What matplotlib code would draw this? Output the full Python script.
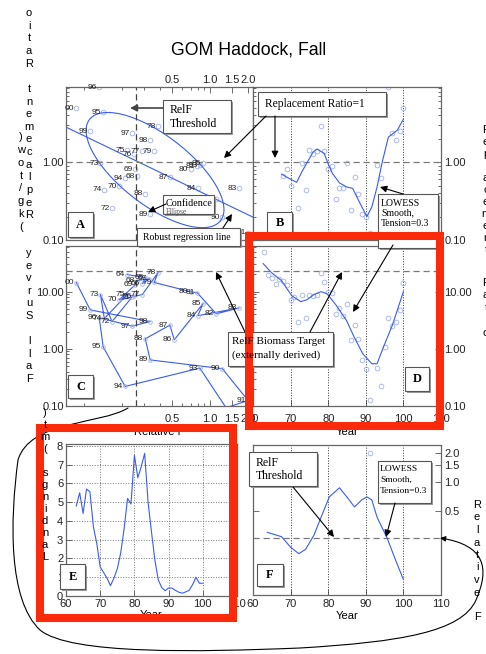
import numpy as np
import matplotlib
matplotlib.use('Agg')
import matplotlib.pyplot as plt
from matplotlib.patches import Rectangle, FancyArrowPatch
from matplotlib.path import Path
from matplotlib.ticker import FixedLocator, NullFormatter, LogLocator

plt.rcParams['font.family'] = ['Liberation Sans', 'DejaVu Sans']

# ---------------- data ----------------
year = list(range(63, 101))
rel_f = [np.nan, 0.22, 0.31, 0.29, 0.33, 0.264, 0.255, 0.19, 0.24, 0.167, 0.135, 0.145,
         0.22, 0.25, 0.29, 0.387, 0.36, 0.70, 0.79, 1.12, 1.70, 0.80, 0.88, 0.52, 0.48,
         0.306, 0.335, 1.25, 2.0, 1.34, 0.83, 0.212, 0.142, 0.132, 0.241, 0.335, 0.112, 0.087]
biomass = [50, 19.9, 17.6, 13.8, 16.9, 15.6, 13.2, 7.2, 8.0, 3.0, 8.9, 3.4, 8.9, 8.3, 8.9,
           21.6, 14.5, 10.0, 9.6, 4.1, 5.2, 3.8, 6.2, 1.44, 2.6, 1.5, 0.64, 0.45, 0.125,
           0.093, 0.46, 0.22, 1.08, 3.5, 2.5, 3.0, 4.8, 14.4]
repl_ratio = [np.nan, np.nan, np.nan, np.nan, np.nan, 0.66, 0.81, 0.49, np.nan, 0.257, 0.97,
              0.44, 1.42, 1.27, 1.38, 2.9, 1.38, 0.81, 0.89, 0.335, 0.46, 0.46, 0.97, 0.24,
              0.64, 0.39, 0.215, 0.197, 0.123, 0.09, 0.91, 0.62, 4.38, 9.1, 2.35, 1.91, 2.5, 4.92]
landings = [4.8, 5.5, 4.4, 5.7, 5.55, 3.7, 2.8, 1.55, 1.25, 0.95, 0.55, 0.95, 1.45, 2.3, 3.6,
            5.2, 4.9, 7.5, 6.3, 6.9, 7.6, 5.0, 3.4, 1.9, 0.85, 0.45, 0.28, 0.43, 0.42, 0.3,
            0.2, 0.15, 0.22, 0.3, 0.6, 1.0, 0.68, 0.68]

b_lowess_year = [67.6, 69.5, 71.6, 73.0, 74.3, 76.0, 77.0, 78.9, 80.0, 81.1, 83.0, 84.9,
                 86.5, 88.4, 90.3, 91.6, 93.0, 94.3, 96.0, 98.4, 100.0]
b_lowess_val = [0.70, 0.62, 0.55, 0.75, 0.97, 1.35, 1.47, 1.30, 0.95, 0.72, 0.54, 0.48,
                0.46, 0.30, 0.20, 0.265, 0.48, 0.97, 2.09, 2.57, 3.56]
d_lowess_year = [62.7, 64.9, 67.6, 70.3, 72.7, 74.3, 76.2, 78.1, 79.7, 82.2, 84.9, 87.0,
                 89.2, 91.6, 93.0, 94.6, 97.0, 100.0]
d_lowess_val = [31, 21.6, 15.6, 8.5, 6.7, 7.2, 8.9, 10.0, 9.2, 5.7, 3.1, 1.56, 0.82, 0.55,
                0.55, 1.04, 2.53, 10.0]
f_lowess_year = [63.8, 67.6, 70.0, 72.2, 74.0, 76.2, 78.1, 80.3, 83.0, 85.2, 87.0, 88.9,
                 90.3, 91.6, 93.0, 95.7, 97.9, 100.0]
f_lowess_val = [0.30, 0.27, 0.21, 0.18, 0.20, 0.28, 0.43, 0.70, 0.87, 0.68, 0.55, 0.65,
                0.70, 0.65, 0.43, 0.26, 0.155, 0.097]
f_point_years = [91]

relf_threshold = 0.26
biomass_target = 23.0
repl_line = 1.0
# robust regression: RR = a * relF ** b
reg_a, reg_b = 0.362, -0.779
# confidence ellipse in log10 space: centre, semi-major vector, semi-minor vector
ell_center = (0.366, 0.79)
ell_major = (0.520, -0.649)
ell_minor = (0.169, 0.354)

relf_ticks = [0.5, 1.0, 1.5, 2.0]
relf_ticklabels = ['0.5', '1.0', '1.5', '2.0']

# ---------------- figure ----------------
W, H = 486, 654
fig = plt.figure(figsize=(W / 100, H / 100), dpi=100)
fig.patch.set_facecolor('white')


def px_axes(x0, y0, x1, y1):
    return fig.add_axes([x0 / W, 1 - y1 / H, (x1 - x0) / W, (y1 - y0) / H])


BLUE = '#3a5cf0'
CIRC = '#9fb0ee'
GREYD = '#7a7a7a'
SPINE = '#666666'

yr = np.array(year, dtype=float)
rf = np.array(rel_f)
bm = np.array(biomass)
rr = np.array(repl_ratio)
ld = np.array(landings)
labels = ['%02d' % (y % 100) for y in year]


def style(ax):
    for s in ax.spines.values():
        s.set_color(SPINE)
        s.set_linewidth(0.9)
    ax.tick_params(which='both', direction='in', colors='#555555', labelcolor='#222222',
                   labelsize=8, width=0.6)
    ax.tick_params(which='major', length=4)
    ax.tick_params(which='minor', length=2)


def circles(ax, x, y):
    ax.plot(x, y, 'o', ms=3.4, mfc='none', mec=CIRC, mew=0.6, ls='none')


# ---- A ----
axA = px_axes(66, 87, 253, 240)
axA.set_xscale('log'); axA.set_yscale('log')
axA.set_xlim(0.072, 2.19); axA.set_ylim(0.1, 9.2)
style(axA)
axA.xaxis.tick_top()
axA.xaxis.set_major_locator(FixedLocator(relf_ticks))
axA.set_xticklabels(relf_ticklabels)
axA.xaxis.set_minor_locator(FixedLocator([0.1, 0.2, 0.3, 0.4, 0.6, 0.7, 0.8, 0.9]))
axA.xaxis.set_minor_formatter(NullFormatter())
axA.set_yticks([0.1, 1.0]); axA.set_yticklabels(['0.10', '1.00'])
axA.yaxis.set_minor_locator(LogLocator(subs=np.arange(2, 10)))
axA.yaxis.set_minor_formatter(NullFormatter())
axA.tick_params(axis='x', pad=1.5); axA.tick_params(axis='y', pad=1.5)
mA = ~np.isnan(rr) & ~np.isnan(rf)
circles(axA, rf[mA], rr[mA])
for xi, yi, lb in zip(rf[mA], rr[mA], np.array(labels)[mA]):
    axA.annotate(lb, (xi, yi), xytext=(-1.5, 0), textcoords='offset points', ha='right',
                 va='center', fontsize=6, color='#222222', annotation_clip=False)
t = np.linspace(0, 2 * np.pi, 300)
lx = np.log10(ell_center[0]) + np.cos(t) * ell_major[0] + np.sin(t) * ell_minor[0]
ly = np.log10(ell_center[1]) + np.cos(t) * ell_major[1] + np.sin(t) * ell_minor[1]
axA.plot(10 ** lx, 10 ** ly, color=BLUE, lw=0.8)
xr = np.geomspace(0.072, 2.19, 60)
axA.plot(xr, reg_a * xr ** reg_b, color=BLUE, lw=0.8)
axA.axhline(repl_line, color=GREYD, ls=(0, (5, 3)), lw=0.9)
axA.axvline(relf_threshold, color='#444444', ls=(0, (5, 3)), lw=0.9)

# ---- B ----
axB = px_axes(253, 87, 441, 240)
axB.set_yscale('log'); axB.set_xlim(60, 110); axB.set_ylim(0.1, 9.2)
style(axB)
axB.set_xticks([60, 70, 80, 90, 100, 110]); axB.set_xticklabels([])
axB.set_yticks([0.1, 1.0]); axB.set_yticklabels(['0.10', '1.00'])
axB.yaxis.set_minor_locator(LogLocator(subs=np.arange(2, 10)))
axB.yaxis.set_minor_formatter(NullFormatter())
axB.tick_params(axis='y', which='both', left=True, right=True, labelleft=False,
                labelright=True, pad=2.5)
for gx in [70, 80, 90, 100]:
    axB.axvline(gx, color='#333333', ls=':', lw=0.7)
axB.axhline(repl_line, color=GREYD, ls=(0, (5, 3)), lw=0.9)
circles(axB, yr, rr)
axB.plot(b_lowess_year, b_lowess_val, color=BLUE, lw=0.8)

# ---- C ----
axC = px_axes(66, 246, 253, 406)
axC.set_xscale('log'); axC.set_yscale('log')
axC.set_xlim(0.072, 2.19); axC.set_ylim(0.1, 63)
style(axC)
axC.xaxis.set_major_locator(FixedLocator(relf_ticks))
axC.set_xticklabels(relf_ticklabels)
axC.xaxis.set_minor_locator(FixedLocator([0.1, 0.2, 0.3, 0.4, 0.6, 0.7, 0.8, 0.9]))
axC.xaxis.set_minor_formatter(NullFormatter())
axC.set_yticks([0.1, 1.0, 10.0]); axC.set_yticklabels(['0.10', '1.00', '10.00'])
axC.yaxis.set_minor_locator(LogLocator(subs=np.arange(2, 10)))
axC.yaxis.set_minor_formatter(NullFormatter())
axC.tick_params(axis='x', pad=6); axC.tick_params(axis='y', pad=1.5)
axC.set_xlabel('Relative F', fontsize=8, labelpad=2)
mC = ~np.isnan(rf)
axC.plot(rf[mC], bm[mC], color=BLUE, lw=0.8, marker='o', ms=2.6, mfc='none', mec=CIRC,
         mew=0.6)
for xi, yi, lb in zip(rf[mC], bm[mC], np.array(labels)[mC]):
    axC.annotate(lb, (xi, yi), xytext=(-1.5, 0), textcoords='offset points', ha='right',
                 va='center', fontsize=6, color='#222222')
axC.axhline(biomass_target, color=GREYD, ls=(0, (5, 3)), lw=0.9)
axC.axvline(relf_threshold, color='#444444', ls=(0, (5, 3)), lw=0.9)

# ---- D ----
axD = px_axes(253, 246, 441, 406)
axD.set_yscale('log'); axD.set_xlim(60, 110); axD.set_ylim(0.1, 63)
style(axD)
axD.set_xticks([60, 70, 80, 90, 100, 110])
axD.set_yticks([0.1, 1.0, 10.0]); axD.set_yticklabels(['0.10', '1.00', '10.00'])
axD.yaxis.set_minor_locator(LogLocator(subs=np.arange(2, 10)))
axD.yaxis.set_minor_formatter(NullFormatter())
axD.tick_params(axis='y', which='both', left=True, right=True, labelleft=False,
                labelright=True, pad=2.5)
axD.tick_params(axis='x', pad=6)
axD.set_xlabel('Year', fontsize=8, labelpad=2)
for gx in [70, 80, 90, 100]:
    axD.axvline(gx, color='#333333', ls=':', lw=0.7)
axD.axhline(biomass_target, color=GREYD, ls=(0, (5, 3)), lw=0.9)
circles(axD, yr, bm)
axD.plot(d_lowess_year, d_lowess_val, color=BLUE, lw=0.8)

# ---- E ----
axE = px_axes(66, 444, 237, 596)
axE.set_xlim(60, 110); axE.set_ylim(0, 8.1)
style(axE)
axE.set_xticks([60, 70, 80, 90, 100, 110]); axE.set_yticks(range(0, 9))
axE.grid(True, color='#777777', ls=':', lw=0.7)
axE.tick_params(pad=2)
axE.set_xlabel('Year', fontsize=8, labelpad=1)
axE.plot(yr, ld, color=BLUE, lw=0.8)

# ---- F ----
axF = px_axes(253, 445, 441, 595)
axF.set_yscale('log'); axF.set_xlim(60, 110); axF.set_ylim(0.067, 2.42)
style(axF)
axF.set_xticks([60, 70, 80, 90, 100, 110])
axF.yaxis.set_major_locator(FixedLocator([0.5, 1.0, 1.5, 2.0]))
axF.set_yticklabels(['0.5', '1.0', '1.5', '2.0'])
axF.yaxis.set_minor_locator(FixedLocator([]))
axF.tick_params(axis='y', which='both', left=True, right=True, labelleft=False,
                labelright=True, pad=2.5)
axF.tick_params(axis='x', pad=3)
axF.set_xlabel('Year', fontsize=8, labelpad=1)
for gx in [70, 80, 90, 100]:
    axF.axvline(gx, color='#333333', ls=':', lw=0.7)
axF.axhline(relf_threshold, color=GREYD, ls=(0, (5, 3)), lw=0.9)
fidx = [year.index(y) for y in f_point_years]
circles(axF, yr[fidx], rf[fidx])
axF.plot(f_lowess_year, f_lowess_val, color=BLUE, lw=0.8)

# ---------------- overlay ----------------
ov = fig.add_axes([0, 0, 1, 1], zorder=10)
ov.set_xlim(0, W); ov.set_ylim(H, 0); ov.axis('off'); ov.patch.set_alpha(0)

ov.text(249, 50, 'GOM Haddock, Fall', ha='center', va='center', fontsize=12.7)

SERIF = ['Liberation Serif', 'DejaVu Serif']


def box(x0, y0, x1, y1, shadow=True):
    if shadow:
        ov.add_patch(Rectangle((x0 + 1.5, y0 + 1.5), x1 - x0, y1 - y0, fc='#9a9a9a',
                               ec='none'))
    ov.add_patch(Rectangle((x0, y0), x1 - x0, y1 - y0, fc='white', ec='#555555', lw=0.8))


def arrow(x0, y0, x1, y1, color='black', lw=0.8):
    ov.add_patch(FancyArrowPatch((x0, y0), (x1, y1), arrowstyle='-|>', mutation_scale=10,
                                 color=color, lw=lw, shrinkA=0, shrinkB=0))


def letter_box(x0, y0, x1, y1, ch):
    box(x0, y0, x1, y1)
    ov.text((x0 + x1) / 2, (y0 + y1) / 2, ch, ha='center', va='center', fontsize=9,
            fontweight='bold', family=SERIF)


# A annotations
box(163, 100, 231, 133)
ov.text(170, 110, 'RelF', fontsize=8.5, family=SERIF, va='center')
ov.text(170, 124, 'Threshold', fontsize=8.5, family=SERIF, va='center')
arrow(163, 108, 130, 108, color='#444444', lw=1.2)
box(258, 92, 386, 116)
ov.text(265, 104, 'Replacement Ratio=1', fontsize=8.3, family=SERIF, va='center')
arrow(266, 116, 224, 158)
arrow(275, 116, 275, 158)
box(163, 195, 214, 214)
ov.text(166, 203, 'Confidence', fontsize=7.3, family=SERIF, va='center')
ov.text(166, 211.5, 'Ellipse', fontsize=5.5, family=SERIF, va='center', color='#555555')
arrow(166, 204, 148, 212)
box(137, 228, 240, 246)
ov.text(143, 237, 'Robust regression line', fontsize=7, family=SERIF, va='center')
arrow(223, 228, 232, 214)
letter_box(68, 212, 93, 237, 'A')
letter_box(267, 212, 292, 235, 'B')
box(378, 194, 438, 248)
ov.text(381, 203, 'LOWESS', fontsize=7, family=SERIF, va='center')
ov.text(381, 213, 'Smooth,', fontsize=7, family=SERIF, va='center')
ov.text(381, 223, 'Tension=0.3', fontsize=7, family=SERIF, va='center')
arrow(403, 194, 380, 187)
arrow(393, 245, 353, 312)

# C / D annotations
box(228, 332, 333, 366)
ov.text(232, 341, 'RelF Biomass Target', fontsize=8, family=SERIF, va='center')
ov.text(232, 355, '(externally derived)', fontsize=8, family=SERIF, va='center')
arrow(310, 332, 342, 272)
arrow(245, 332, 216, 272)
letter_box(68, 375, 93, 398, 'C')
letter_box(405, 367, 429, 391, 'D')

# E / F annotations
letter_box(60, 564, 85, 589, 'E')
letter_box(257, 564, 283, 586, 'F')
box(249, 452, 317, 486)
ov.text(256, 463, 'RelF', fontsize=8.5, family=SERIF, va='center')
ov.text(256, 476, 'Threshold', fontsize=8.5, family=SERIF, va='center')
arrow(293, 487, 334, 537)
box(378, 461, 431, 503)
ov.text(380, 469, 'LOWESS', fontsize=6.8, family=SERIF, va='center')
ov.text(380, 480, 'Smooth,', fontsize=6.8, family=SERIF, va='center')
ov.text(380, 491, 'Tension=0.3', fontsize=6.8, family=SERIF, va='center')
arrow(395, 503, 386, 537)


# stacked axis titles
def stacked(x, y0, step, s, **kw):
    for i, ch in enumerate(s):
        if ch != ' ':
            ov.text(x, y0 + i * step, ch, ha='center', va='center', fontsize=8, **kw)


stacked(29, 13, 12.65, 'Replacement Ratio'[::-1])
stacked(21, 137, 12.85, '(kg/tow)'[::-1])
stacked(29, 253, 12.6, 'Fall Survey'[::-1])
stacked(45, 413, 12.0, 'Landings (mt)'[::-1])
stacked(486, 130, 12.0, 'Replacement')
stacked(486, 283, 12.5, 'Ratio')
stacked(477, 505, 12.5, 'Relative F')

# hand-drawn loop with arrow
verts = [(128, 408), (100, 425), (30, 420), (18, 460),
         (10, 520), (8, 600), (40, 630),
         (70, 655), (200, 652), (300, 648),
         (400, 642), (462, 632), (476, 600),
         (490, 568), (485, 545), (440, 538)]
codes = [Path.MOVETO] + [Path.CURVE4] * 15
ov.add_patch(FancyArrowPatch(path=Path(verts, codes), arrowstyle='-|>', mutation_scale=8,
                             color='black', lw=0.8))

# red highlight rectangles
RED = '#fa2a0a'
ov.add_patch(Rectangle((40, 427.5), 193, 190.5, fc='none', ec=RED, lw=5.8))
ov.add_patch(Rectangle((248.5, 236), 191.5, 189.5, fc='none', ec=RED, lw=5.8))

fig.savefig('out.png', dpi=100)
